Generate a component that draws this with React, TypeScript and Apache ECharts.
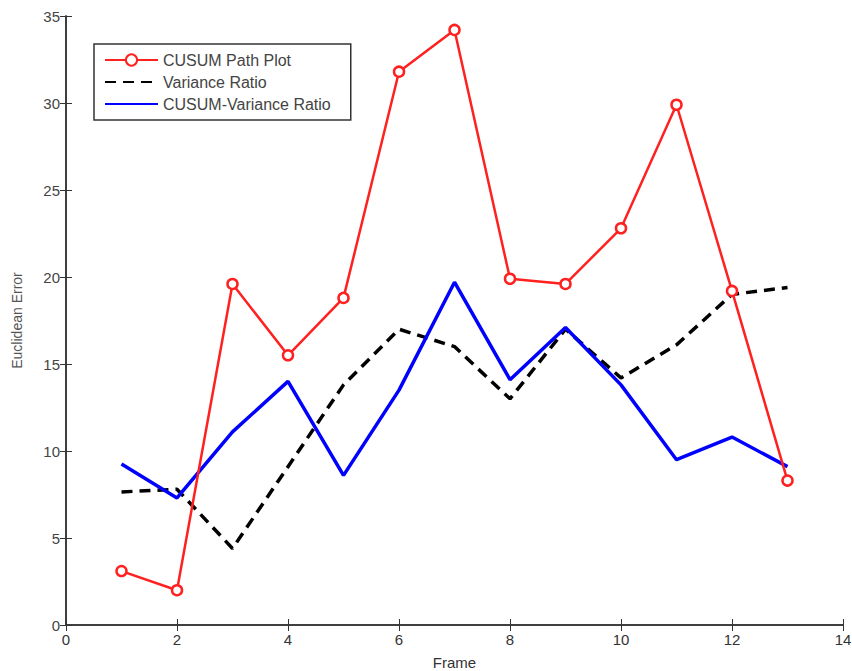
import React, { useEffect, useRef } from "react";
import * as echarts from "echarts";

const frames = [1, 2, 3, 4, 5, 6, 7, 8, 9, 10, 11, 12, 13];
const cusumPath = [3.1, 2.0, 19.6, 15.5, 18.8, 31.8, 34.2, 19.9, 19.6, 22.8, 29.9, 19.2, 8.3];
const varianceRatio = [7.65, 7.8, 4.4, 9.1, 13.8, 17.0, 16.0, 13.0, 17.0, 14.2, 16.1, 19.0, 19.4];
const cusumVariance = [9.25, 7.3, 11.1, 14.0, 8.6, 13.5, 19.7, 14.1, 17.1, 13.8, 9.5, 10.8, 9.1];
const seriesNames = ["CUSUM Path Plot", "Variance Ratio", "CUSUM-Variance Ratio"];

const pair = (vals: number[]) => frames.map((f, i) => [f, vals[i]]);

export default function App() {
  const ref = useRef<HTMLDivElement>(null);
  useEffect(() => {
    if (!ref.current) return;
    const chart = echarts.init(ref.current, undefined, { renderer: "svg" });
    const font = "Liberation Sans, Arial, sans-serif";
    const axisLine = { show: true, lineStyle: { color: "#333", width: 1.5 } };
    const tick = { show: true, inside: true, length: 6, lineStyle: { color: "#333" } };
    chart.setOption({
      animation: false,
      backgroundColor: "#fff",
      textStyle: { fontFamily: font },
      grid: { left: 66, right: 9, top: 16, bottom: 46, containLabel: false, outerBoundsMode: "none" },
      legend: {
        orient: "vertical",
        left: 94,
        top: 44,
        padding: [8, 20, 8, 10],
        itemGap: 6,
        itemWidth: 53,
        itemHeight: 14,
        borderColor: "#333",
        borderWidth: 1.5,
        backgroundColor: "#fff",
        textStyle: { fontSize: 16, color: "#444", fontFamily: font },
        data: [
          { name: seriesNames[0] },
          { name: seriesNames[1], itemStyle: { opacity: 0 } },
          { name: seriesNames[2], itemStyle: { opacity: 0 } },
        ],
      },
      xAxis: [
        {
          type: "value",
          min: 0,
          max: 14,
          interval: 2,
          name: "Frame",
          nameLocation: "middle",
          nameGap: 30,
          nameTextStyle: { fontSize: 15, color: "#333" },
          axisLine,
          axisTick: tick,
          axisLabel: { fontSize: 15, color: "#333", margin: 7 },
          splitLine: { show: false },
        },
        {
          type: "value",
          position: "top",
          min: 0,
          max: 14,
          interval: 2,
          axisLine,
          axisTick: tick,
          axisLabel: { show: false },
          splitLine: { show: false },
        },
      ],
      yAxis: [
        {
          type: "value",
          min: 0,
          max: 35,
          interval: 5,
          name: "Euclidean Error",
          nameLocation: "middle",
          nameGap: 42,
          nameTextStyle: { fontSize: 14, color: "#555" },
          axisLine,
          axisTick: tick,
          axisLabel: { fontSize: 15, color: "#444", margin: 6 },
          splitLine: { show: false },
        },
        {
          type: "value",
          position: "right",
          min: 0,
          max: 35,
          interval: 5,
          axisLine,
          axisTick: tick,
          axisLabel: { show: false },
          splitLine: { show: false },
        },
      ],
      series: [
        {
          name: seriesNames[0],
          type: "line",
          data: pair(cusumPath),
          symbol: "circle",
          symbolSize: 10,
          showAllSymbol: true,
          itemStyle: { color: "#fff", borderColor: "#ff2020", borderWidth: 2.5 },
          lineStyle: { color: "#ff2020", width: 2.5 },
          color: "#ff2020",
          z: 3,
        },
        {
          name: seriesNames[1],
          type: "line",
          data: pair(varianceRatio),
          symbol: "none",
          lineStyle: { color: "#000", width: 3.5, type: [11, 7] },
          itemStyle: { color: "#000" },
          z: 2,
        },
        {
          name: seriesNames[2],
          type: "line",
          data: pair(cusumVariance),
          symbol: "none",
          lineStyle: { color: "#0000ff", width: 3.5 },
          itemStyle: { color: "#0000ff" },
          z: 2,
        },
      ],
    });
    return () => chart.dispose();
  }, []);
  return <div ref={ref} style={{ width: 852, height: 671, position: "absolute", left: 0, top: 0 }} />;
}
